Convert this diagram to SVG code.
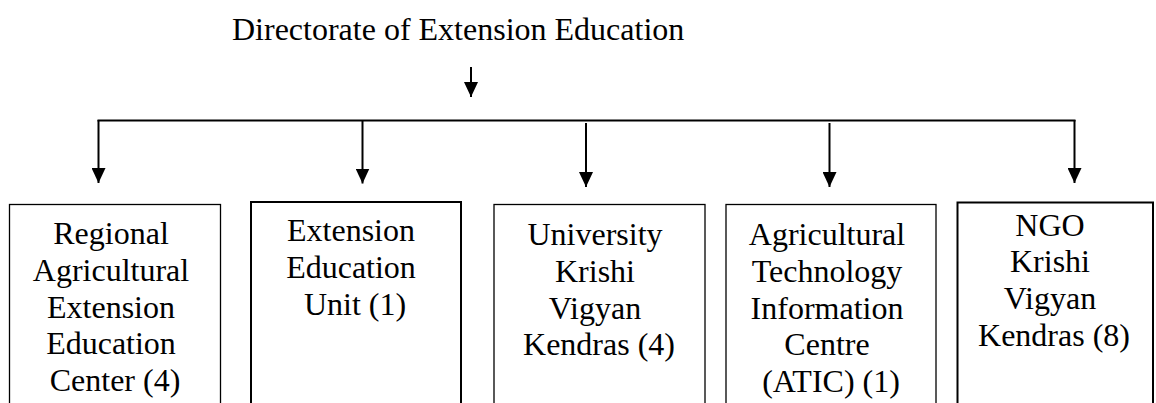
<svg xmlns="http://www.w3.org/2000/svg" width="1156" height="403" viewBox="0 0 1156 403">
<style>
  .lbl { font-family: "Liberation Serif", "Times New Roman", serif; font-size: 32px; fill: #000; }
  .box { fill: #fff; stroke: #000; }
  .thin { stroke-width: 1.3; }
  .thick { stroke-width: 2; }
  .conn { fill: none; stroke: #000; stroke-width: 2; }
</style>
<defs>
  <marker id="ah" markerUnits="userSpaceOnUse" viewBox="0 0 15 14" refX="15" refY="7" markerWidth="15" markerHeight="14" orient="auto">
    <path d="M0,0 L15,7 L0,14 Z" fill="#000"/>
  </marker>
</defs>
<rect width="1156" height="403" fill="#fff"/>
<g id="root">
  <text class="lbl" x="232" y="39.5">Directorate of Extension Education</text>
</g>
<g id="connectors">
  <line class="conn" x1="471" y1="67" x2="471" y2="97" marker-end="url(#ah)"/>
  <line class="conn" x1="97.5" y1="120.5" x2="1075.5" y2="120.5"/>
  <line class="conn" x1="98.5" y1="120" x2="98.5" y2="183" marker-end="url(#ah)"/>
  <line class="conn" x1="362.5" y1="120" x2="362.5" y2="183.5" marker-end="url(#ah)"/>
  <line class="conn" x1="586" y1="123" x2="586" y2="187" marker-end="url(#ah)"/>
  <line class="conn" x1="829.5" y1="123" x2="829.5" y2="187" marker-end="url(#ah)"/>
  <line class="conn" x1="1074.5" y1="120" x2="1074.5" y2="183" marker-end="url(#ah)"/>
</g>
<g id="node1">
  <rect class="box thin" x="9.5" y="204.5" width="211" height="230"/>
  <text class="lbl" text-anchor="middle">
    <tspan x="115" y="244">Regional</tspan>
    <tspan x="115" y="280.8">Agricultural</tspan>
    <tspan x="115" y="317.6">Extension</tspan>
    <tspan x="115" y="354.4">Education</tspan>
    <tspan x="115" y="391.2">Center (4)</tspan>
  </text>
</g>
<g id="node2">
  <rect class="box thick" x="251" y="202" width="210" height="230"/>
  <text class="lbl" text-anchor="middle">
    <tspan x="355" y="241">Extension</tspan>
    <tspan x="355" y="277.8">Education</tspan>
    <tspan x="355" y="314.6">Unit (1)</tspan>
  </text>
</g>
<g id="node3">
  <rect class="box thin" x="494" y="204.5" width="211" height="230"/>
  <text class="lbl" text-anchor="middle">
    <tspan x="599" y="245">University</tspan>
    <tspan x="599" y="281.8">Krishi</tspan>
    <tspan x="599" y="318.6">Vigyan</tspan>
    <tspan x="599" y="355.4">Kendras (4)</tspan>
  </text>
</g>
<g id="node4">
  <rect class="box thin" x="726" y="204.5" width="210" height="230"/>
  <text class="lbl" text-anchor="middle">
    <tspan x="831" y="245">Agricultural</tspan>
    <tspan x="831" y="281.8">Technology</tspan>
    <tspan x="831" y="318.6">Information</tspan>
    <tspan x="831" y="355.4">Centre</tspan>
    <tspan x="831" y="392.2">(ATIC) (1)</tspan>
  </text>
</g>
<g id="node5">
  <rect class="box thick" x="957.5" y="202.5" width="195.5" height="230"/>
  <text class="lbl" text-anchor="middle">
    <tspan x="1054" y="235.5">NGO</tspan>
    <tspan x="1054" y="272.3">Krishi</tspan>
    <tspan x="1054" y="309.1">Vigyan</tspan>
    <tspan x="1054" y="345.9">Kendras (8)</tspan>
  </text>
</g>
</svg>
